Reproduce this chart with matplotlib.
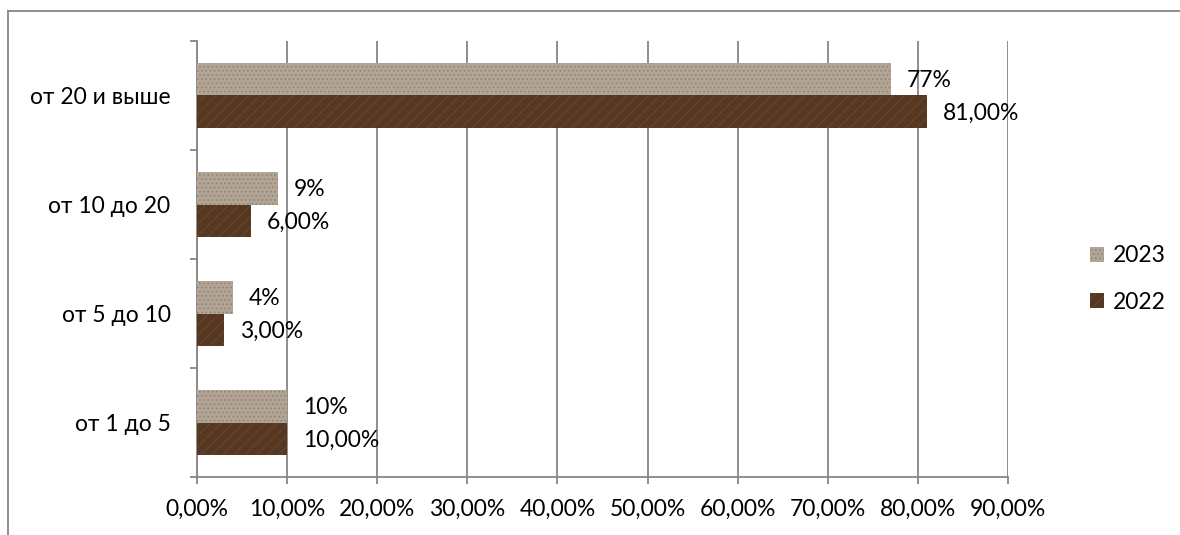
import matplotlib
matplotlib.use("Agg")
import matplotlib.pyplot as plt
from matplotlib.lines import Line2D

categories = ["от 1 до 5", "от 5 до 10", "от 10 до 20", "от 20 и выше"]
values_2023 = [10, 4, 9, 77]
values_2022 = [10, 3, 6, 81]
labels_2023 = ["10%", "4%", "9%", "77%"]
labels_2022 = ["10,00%", "3,00%", "6,00%", "81,00%"]
xticks = [0, 10, 20, 30, 40, 50, 60, 70, 80, 90]
xtick_labels = ["0,00%", "10,00%", "20,00%", "30,00%", "40,00%", "50,00%",
                "60,00%", "70,00%", "80,00%", "90,00%"]

plt.rcParams['font.family'] = ['Lato', 'DejaVu Sans']
plt.rcParams['hatch.linewidth'] = 0.6

W, H = 1180, 535
fig = plt.figure(figsize=(W / 100, H / 100), dpi=100)
ax = fig.add_axes([197 / W, 1 - 477 / H, (1008 - 197) / W, (477 - 41) / H])

c23 = "#b3a595"
c22 = "#553722"
fs = 16.5
bh = 0.295
y = list(range(len(categories)))
y23 = [v + bh / 2 for v in y]
y22 = [v - bh / 2 for v in y]
b23 = ax.barh(y23, values_2023, height=bh, color=c23, label="2023", zorder=3,
              hatch="....", edgecolor="#8f8273", linewidth=0)
b22 = ax.barh(y22, values_2022, height=bh, color=c22, label="2022", zorder=3,
              hatch="///", edgecolor="#6b4a30", linewidth=0)

for rect, lab in zip(b23, labels_2023):
    ax.annotate(lab, (rect.get_width(), rect.get_y() + rect.get_height() / 2),
                xytext=(16, -1), textcoords="offset pixels",
                va="center", ha="left", fontsize=fs, color="black", zorder=5)
for rect, lab in zip(b22, labels_2022):
    ax.annotate(lab, (rect.get_width(), rect.get_y() + rect.get_height() / 2),
                xytext=(16, -2), textcoords="offset pixels",
                va="center", ha="left", fontsize=fs, color="black", zorder=5)

ax.set_xlim(0, 90)
ax.set_ylim(-0.5, len(categories) - 0.5)
ax.set_xticks(xticks)
ax.set_xticklabels(xtick_labels, fontsize=fs)
ax.set_yticks([v - 0.5 for v in range(len(categories) + 1)])
ax.set_yticklabels([])
ax.set_yticks(y, minor=True)
ax.set_yticklabels(categories, minor=True, fontsize=fs)
ax.tick_params(axis="y", which="minor", length=0, pad=19)
ax.tick_params(axis="y", which="major", length=5, color="#868686", width=1.3)
ax.tick_params(axis="x", length=5, color="#868686", width=1.3, pad=11)
ax.grid(axis="x", color="#868686", linewidth=1.3, zorder=0)
for s in ["top", "right"]:
    ax.spines[s].set_visible(False)
for s in ["left", "bottom"]:
    ax.spines[s].set_color("#868686")
    ax.spines[s].set_linewidth(1.3)

handles = [plt.Rectangle((0, 0), 1, 1, facecolor=c23, hatch="....", edgecolor="#8f8273", linewidth=0),
           plt.Rectangle((0, 0), 1, 1, facecolor=c22, hatch="///", edgecolor="#6b4a30", linewidth=0)]
fig.legend(handles, ["2023", "2022"], loc="center left",
           bbox_to_anchor=(1090 / W, 1 - 279 / H), frameon=False, fontsize=fs,
           handlelength=0.6, handleheight=0.6, handletextpad=0.4, labelspacing=1.1,
           borderaxespad=0, borderpad=0)

# outer chart frame
fig.add_artist(Line2D([8 / W, 8 / W], [0, 1 - 11 / H], transform=fig.transFigure,
                      color="#868686", linewidth=1.3))
fig.add_artist(Line2D([8 / W, 1], [1 - 11 / H, 1 - 11 / H], transform=fig.transFigure,
                      color="#868686", linewidth=1.3))

fig.savefig("out.png", dpi=100, facecolor="white")
